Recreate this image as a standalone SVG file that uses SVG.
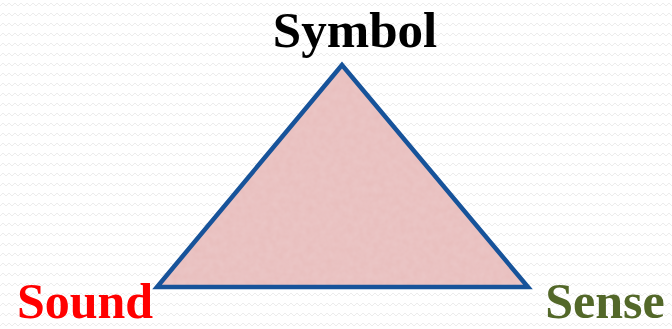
<svg xmlns="http://www.w3.org/2000/svg" width="672" height="329" viewBox="0 0 672 329">
<defs>
<pattern id="bg" width="12" height="10" patternUnits="userSpaceOnUse">
<path d="M0 6 L3 3 L6 6 L9 3 L12 6" fill="none" stroke="#ececec" stroke-width="1"/>
</pattern>
<filter id="tex" x="0" y="0" width="100%" height="100%">
<feTurbulence type="fractalNoise" baseFrequency="0.15" numOctaves="2" seed="3"/>
<feColorMatrix type="matrix" values="0 0 0 0 0.88  0 0 0 0 0.70  0 0 0 0 0.71  0 0 0 0.35 0"/>
<feComposite in2="SourceGraphic" operator="in"/>
</filter>
</defs>
<style>
.lbl{font-family:"Liberation Serif","Times New Roman",serif;font-weight:bold;font-size:51px}
.bot{font-size:50px}
</style>
<rect width="672" height="329" fill="#ffffff"/>
<rect width="672" height="329" fill="url(#bg)"/>
<g id="triangle">
<polygon points="342,65 157,287 528,287" fill="#e8bdbc"/>
<polygon points="342,65 157,287 528,287" fill="#000" filter="url(#tex)"/>
<polygon points="342,65 157,287 528,287" fill="none" stroke="#17539a" stroke-width="4.5" stroke-linejoin="miter"/>
</g>
<g id="symbol"><text class="lbl" x="355" y="47" text-anchor="middle" fill="#000000">Symbol</text></g>
<g id="sound"><text class="lbl bot" x="85" y="318" text-anchor="middle" fill="#ff0000">Sound</text></g>
<g id="sense"><text class="lbl bot" x="605" y="318" text-anchor="middle" fill="#536829">Sense</text></g>
<g id="connectors"/>
</svg>
